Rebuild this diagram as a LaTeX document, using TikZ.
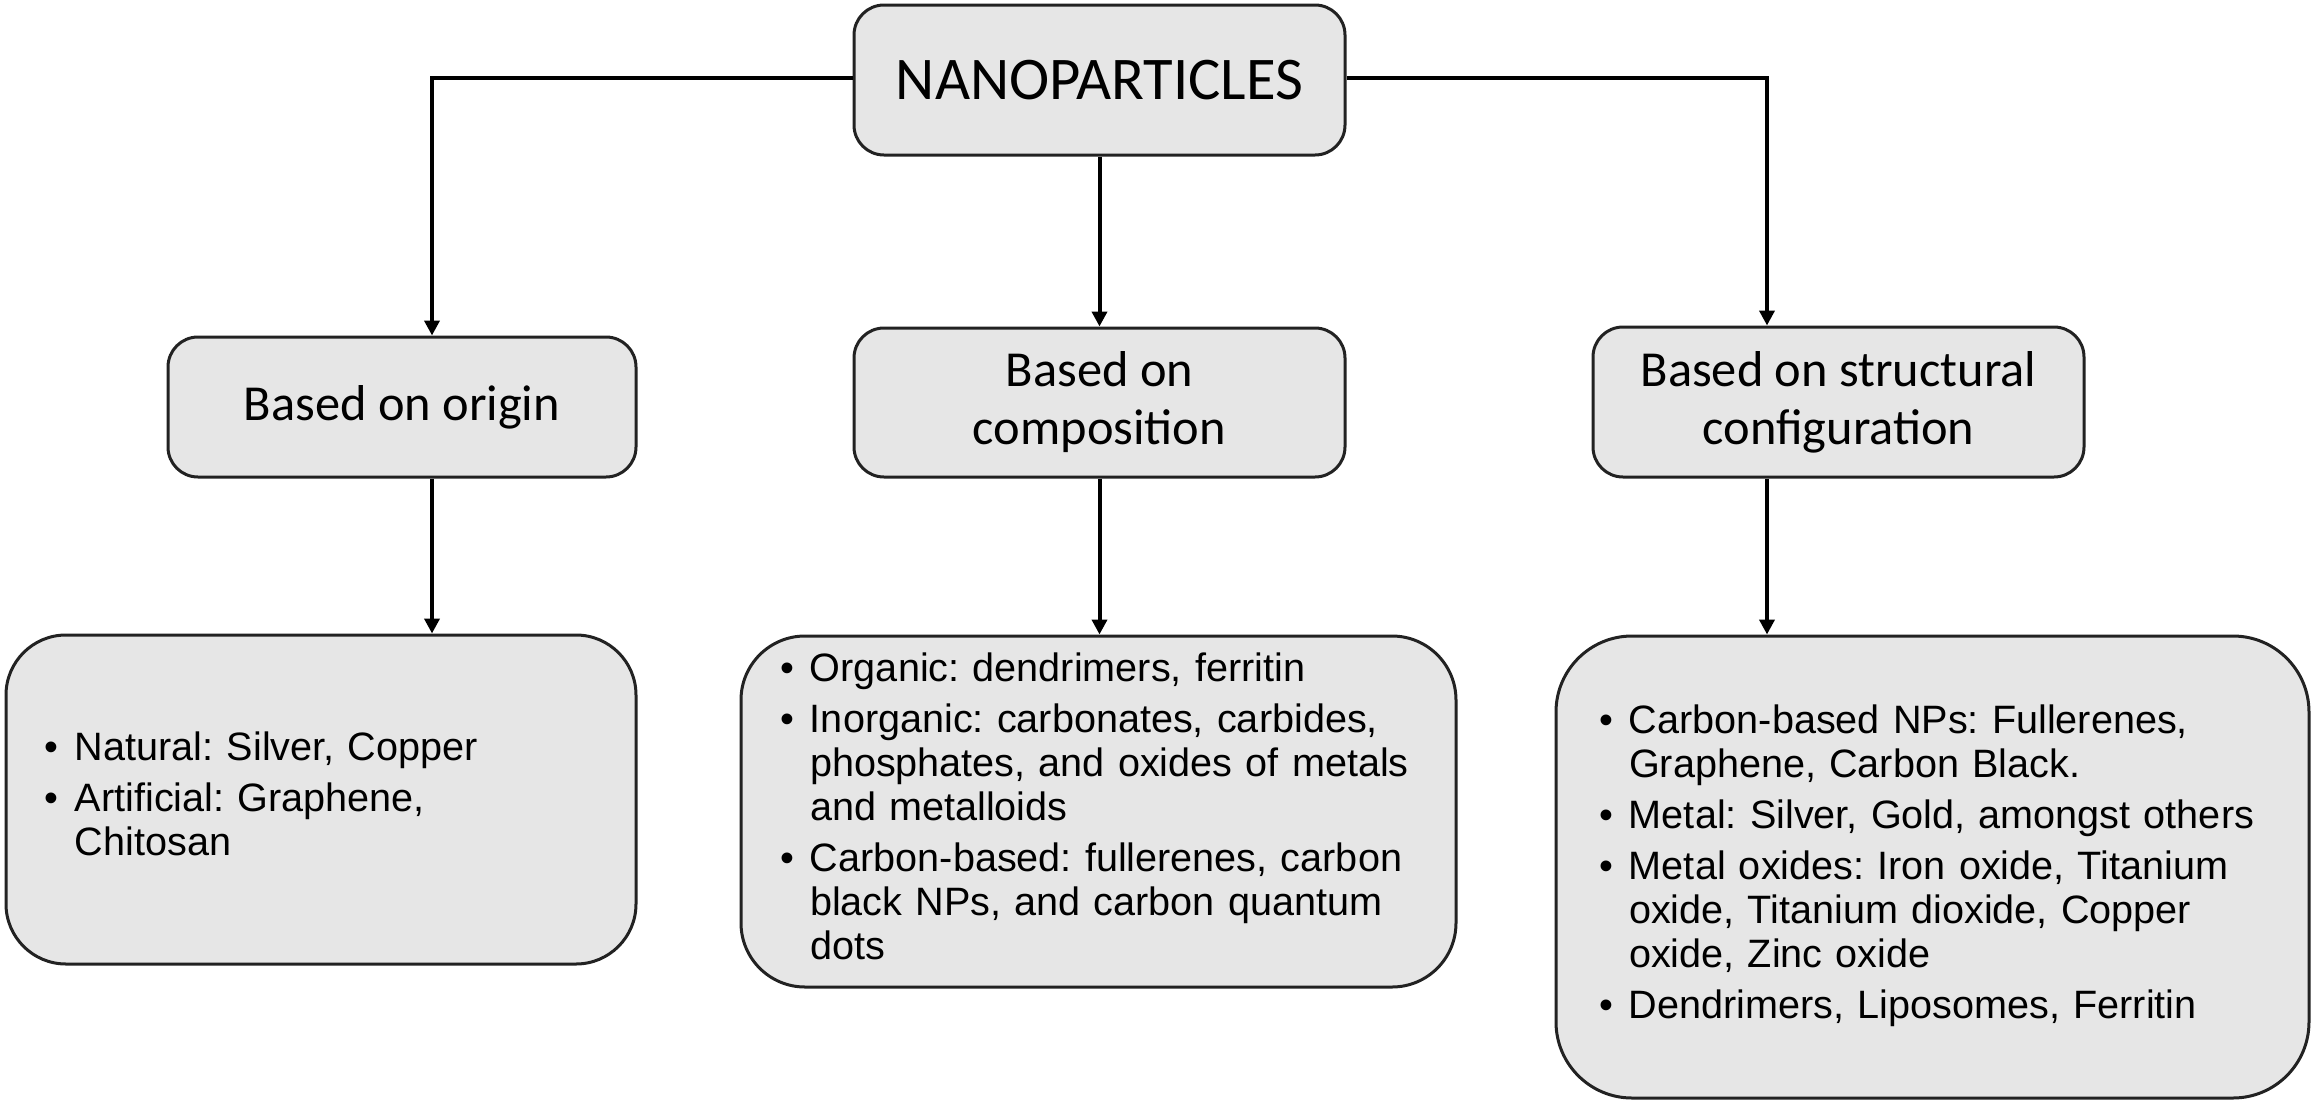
\documentclass[tikz,border=0pt]{standalone}
\usepackage{fontspec}
\setmainfont{Carlito}
\newfontfamily\arialf{Liberation Sans}
\usetikzlibrary{arrows.meta,calc}
\definecolor{boxfill}{HTML}{E6E6E6}
\definecolor{boxline}{HTML}{222222}
\tikzset{
 catbox/.style={draw=boxline, line width=1.5pt, fill=boxfill, rounded corners=15pt, inner sep=0pt, align=center, font=\fontsize{25.2}{29}\selectfont},
 listbox/.style={draw=boxline, line width=1.5pt, fill=boxfill, inner xsep=19.5pt, inner ysep=0pt, align=left, font=\arialf\frenchspacing\fontsize{19.8}{22}\selectfont},
 conn/.style={line width=2pt, -{Triangle[length=7.5pt,width=7.5pt]}},
}
\newcommand{\bul}{\makebox[15pt][l]{•}}
\newcommand{\ind}{\hspace*{15pt}}
\frenchspacing
\begin{document}
\begin{tikzpicture}[x=0.5pt,y=-0.5pt]
\useasboundingbox (0,0) rectangle (2315,1104);
\node[catbox, minimum width=245.5pt, minimum height=75pt, font=\fontsize{30.3}{34}\selectfont] (top) at (1099.5,80) {NANOPARTICLES};
\node[catbox, minimum width=234pt, minimum height=70pt] (origin) at (402,407) {Based on origin};
\node[catbox, minimum width=245.5pt, minimum height=74.5pt] (comp) at (1099.5,402.5) {Based on\\composition};
\node[catbox, minimum width=245.5pt, minimum height=75pt] (struct) at (1838.5,402) {Based on structural\\configuration};

\node[listbox, text width=276pt, minimum height=164.5pt, rounded corners=30pt] (olist) at (321,799.5) {%
\begin{tabular}{@{}l@{}}
\bul Natural: Silver, Copper\\[3.5pt]
\bul Artificial: Graphene,\\
\ind Chitosan
\end{tabular}};

\node[listbox, text width=318.5pt, minimum height=175.5pt, rounded corners=32pt] (clist) at (1098.5,811.5) {%
\begin{tabular}{@{}l@{}}
\bul Organic: dendrimers, ferritin\\[3.5pt]
\bul Inorganic: carbonates, carbides,\\
\ind phosphates, and oxides of metals\\
\ind and metalloids\\[3.5pt]
\bul Carbon-based: fullerenes, carbon\\
\ind black NPs, and carbon quantum\\
\ind dots
\end{tabular}};

\node[listbox, inner xsep=21.5pt, text width=333.5pt, minimum height=231pt, rounded corners=38pt] (slist) at (1932.5,867) {%
\begin{tabular}{@{}l@{}}
\bul Carbon-based NPs: Fullerenes,\\
\ind Graphene, Carbon Black.\\[3.5pt]
\bul Metal: Silver, Gold, amongst others\\[3.5pt]
\bul Metal oxides: Iron oxide, Titanium\\
\ind oxide, Titanium dioxide, Copper\\
\ind oxide, Zinc oxide\\[3.5pt]
\bul Dendrimers, Liposomes, Ferritin
\end{tabular}};

\coordinate (cA) at (432,0);
\coordinate (cC) at (1767,0);
\draw[conn] ([yshift=1pt]top.west) -| (cA |- origin.north);
\draw[conn] (top.south) -- (comp.north);
\draw[conn] ([yshift=1pt]top.east) -| (cC |- struct.north);
\draw[conn] (cA |- origin.south) -- (cA |- olist.north);
\draw[conn] (comp.south) -- (comp.south |- clist.north);
\draw[conn] (cC |- struct.south) -- (cC |- slist.north);
\end{tikzpicture}
\end{document}
